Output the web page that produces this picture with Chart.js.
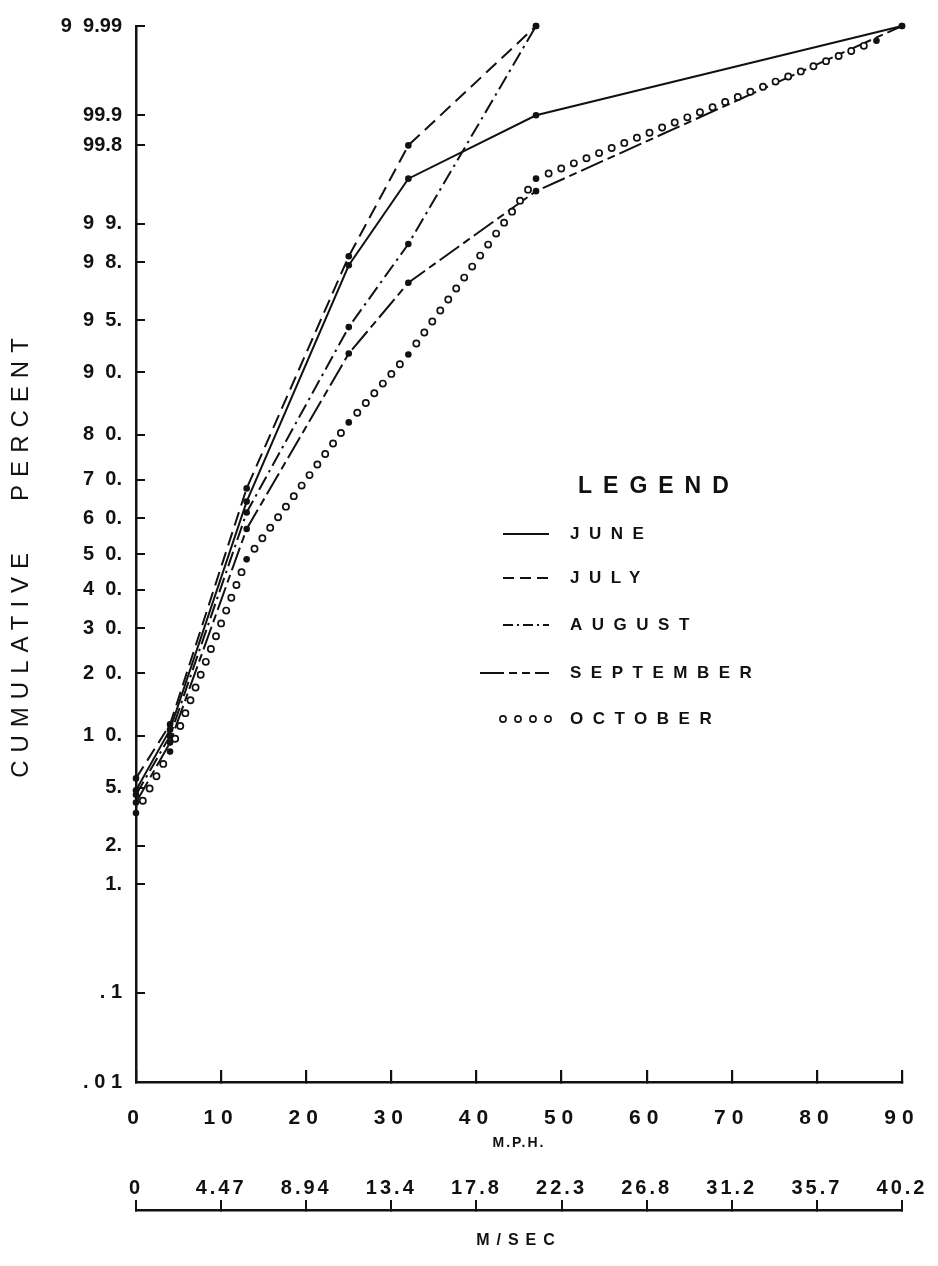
<!DOCTYPE html>
<html><head><meta charset="utf-8">
<script src="https://cdn.jsdelivr.net/npm/chart.js@4/dist/chart.umd.min.js"></script>
<style>html,body{margin:0;padding:0;background:#fff;}canvas{display:block;}</style>
</head><body>
<canvas id="c" width="938" height="1266"></canvas>
<script>
// ---------------- data ----------------
const juneMph      = [0, 4, 13, 25, 32, 47, 90];
const junePct      = [4.8, 10.8, 64.4, 97.9, 99.59, 99.9, 99.99];
const julyMph      = [0, 4, 13, 25, 32, 47];
const julyPct      = [5.7, 11.5, 67.8, 98.2, 99.8, 99.99];
const augustMph    = [0, 4, 13, 25, 32, 47];
const augustPct    = [4.5, 10.0, 61.5, 94.5, 98.55, 99.99];
const septemberMph = [0, 4, 13, 25, 32, 47, 90];
const septemberPct = [4.0, 9.2, 57.0, 92.1, 97.2, 99.47, 99.99];
const octoberMph   = [0, 4, 13, 25, 32, 47, 87];
const octoberPct   = [3.4, 8.2, 48.5, 82.3, 92.0, 99.59, 99.985];

const seriesNames   = ['JUNE', 'JULY', 'AUGUST', 'SEPTEMBER', 'OCTOBER'];
const mphTicks      = [0, 10, 20, 30, 40, 50, 60, 70, 80, 90];
const mphTickLabels = ['0', '10', '20', '30', '40', '50', '60', '70', '80', '90'];
const msecTickLabels = ['0', '4.47', '8.94', '13.4', '17.8', '22.3', '26.8', '31.2', '35.7', '40.2'];
const pctTicks      = [99.99, 99.9, 99.8, 99, 98, 95, 90, 80, 70, 60, 50, 40, 30, 20, 10, 5, 2, 1, 0.1, 0.01];
const pctTickLabels = ['9  9.99', '99.9', '99.8', '9  9.', '9  8.', '9  5.', '9  0.', '8  0.', '7  0.', '6  0.',
                       '5  0.', '4  0.', '3  0.', '2  0.', '1  0.', '5.', '2.', '1.', '. 1', '. 0 1'];
const yTitle = 'CUMULATIVE   PERCENT';
const xTitle = 'M.P.H.';
const x3Title = 'M/SEC';
const legendTitle = 'LEGEND';

// ---------------- helpers ----------------
function probit(p) {
  const a = [-3.969683028665376e+01, 2.209460984245205e+02, -2.759285104469687e+02, 1.383577518672690e+02, -3.066479806614716e+01, 2.506628277459239e+00];
  const b = [-5.447609879822406e+01, 1.615858368580409e+02, -1.556989798598866e+02, 6.680131188771972e+01, -1.328068155288572e+01];
  const c = [-7.784894002430293e-03, -3.223964580411365e-01, -2.400758277161838e+00, -2.549732539343734e+00, 4.374664141464968e+00, 2.938163982698783e+00];
  const d = [7.784695709041462e-03, 3.224671290700398e-01, 2.445134137142996e+00, 3.754408661907416e+00];
  const pl = 0.02425, ph = 1 - pl;
  let q, r;
  if (p < pl) {
    q = Math.sqrt(-2 * Math.log(p));
    return (((((c[0]*q+c[1])*q+c[2])*q+c[3])*q+c[4])*q+c[5]) / ((((d[0]*q+d[1])*q+d[2])*q+d[3])*q+1);
  }
  if (p <= ph) {
    q = p - 0.5; r = q * q;
    return (((((a[0]*r+a[1])*r+a[2])*r+a[3])*r+a[4])*r+a[5])*q / (((((b[0]*r+b[1])*r+b[2])*r+b[3])*r+b[4])*r+1);
  }
  q = Math.sqrt(-2 * Math.log(1 - p));
  return -(((((c[0]*q+c[1])*q+c[2])*q+c[3])*q+c[4])*q+c[5]) / ((((d[0]*q+d[1])*q+d[2])*q+d[3])*q+1);
}
function normCdf(z) {
  const t = 1 / (1 + 0.3275911 * Math.abs(z) / Math.SQRT2);
  const y = 1 - (((((1.061405429*t - 1.453152027)*t) + 1.421413741)*t - 0.284496736)*t + 0.254829592)*t*Math.exp(-z*z/2);
  return z >= 0 ? 0.5 * (1 + y) : 0.5 * (1 - y);
}

const FONT = "'Liberation Sans', Arial, sans-serif";
const INK = '#111';
const SPACING = {
  y:  { ticks: '0px', title: '8px' },
  x:  { ticks: '6px', title: '2px' },
  x2: { ticks: '3px', title: '0px' },
  x3: { ticks: '0px', title: '7px' }
};
function withSpacing(scale, kind, fn) {
  const ctx = scale.ctx;
  ctx.save();
  const s = (SPACING[scale.id] || {})[kind];
  if (s && 'letterSpacing' in ctx) ctx.letterSpacing = s;
  fn();
  ctx.restore();
}
function fixBox(size) {
  return s => {
    if (s.isHorizontal()) s.height = size; else s.width = size;
    s.paddingTop = 0; s.paddingBottom = 0; s.paddingLeft = 0; s.paddingRight = 0;
  };
}

// normal-probability (probit) axis
class ProbitScale extends Chart.Scale {
  determineDataLimits() { this.min = this.options.min; this.max = this.options.max; }
  buildTicks() { return pctTicks.map(v => ({ value: v })); }
  getLabelForValue(v) { return String(v); }
  configure() {
    super.configure();
    this._zMin = probit(this.min / 100);
    this._zMax = probit(this.max / 100);
  }
  getPixelForValue(v) {
    if (v === null || v === undefined || isNaN(v)) return NaN;
    const z = probit(v / 100);
    return this.getPixelForDecimal((z - this._zMin) / (this._zMax - this._zMin));
  }
  getValueForPixel(px) {
    const dd = this.getDecimalForPixel(px);
    return 100 * normCdf(this._zMin + dd * (this._zMax - this._zMin));
  }
  drawLabels(area) { withSpacing(this, 'ticks', () => super.drawLabels(area)); }
  drawTitle() { withSpacing(this, 'title', () => super.drawTitle()); }
}
ProbitScale.id = 'probit';
ProbitScale.defaults = {};

class SpacedLinearScale extends Chart.LinearScale {
  drawLabels(area) { withSpacing(this, 'ticks', () => super.drawLabels(area)); }
  drawTitle() { withSpacing(this, 'title', () => super.drawTitle()); }
}
SpacedLinearScale.id = 'spacedLinear';
SpacedLinearScale.defaults = Chart.LinearScale.defaults;

Chart.register(ProbitScale, SpacedLinearScale);

// open-circle line for October, drawn along the library's point positions
const RING_DATASET = 4;
function drawRing(ctx, x, y) {
  ctx.beginPath();
  ctx.arc(x, y, 3.1, 0, Math.PI * 2);
  ctx.fill();
  ctx.stroke();
}
const ringLine = {
  id: 'ringLine',
  afterDatasetsDraw(chart) {
    const meta = chart.getDatasetMeta(RING_DATASET);
    const pts = meta.data;
    const ctx = chart.ctx;
    ctx.save();
    ctx.lineWidth = 1.7; ctx.strokeStyle = INK; ctx.fillStyle = '#fff';
    for (let i = 0; i < pts.length - 1; i++) {
      const a = pts[i], b = pts[i + 1];
      const L = Math.hypot(b.x - a.x, b.y - a.y);
      const n = Math.max(1, Math.round(L / 13.5));
      for (let k = 1; k < n; k++) {
        drawRing(ctx, a.x + (b.x - a.x) * k / n, a.y + (b.y - a.y) * k / n);
      }
    }
    ctx.restore();
  }
};

// legend block drawn in the plot like the original
const legendBlock = {
  id: 'legendBlock',
  afterDraw(chart) {
    const ctx = chart.ctx;
    ctx.save();
    ctx.fillStyle = INK; ctx.strokeStyle = INK;
    ctx.textBaseline = 'middle'; ctx.textAlign = 'left';
    if ('letterSpacing' in ctx) ctx.letterSpacing = '11px';
    ctx.font = 'bold 23px ' + FONT;
    ctx.fillText(legendTitle, 578, 487);
    ctx.font = 'bold 17px ' + FONT;
    if ('letterSpacing' in ctx) ctx.letterSpacing = '9.5px';
    const rowY = [534, 578, 625, 673, 719];
    const sampleStart = [503, 503, 503, 480, 0];
    chart.data.datasets.forEach((ds, i) => {
      const y = rowY[i];
      if (i < 4) {
        ctx.save();
        ctx.lineWidth = 2;
        ctx.setLineDash(ds.legendDash || []);
        ctx.beginPath(); ctx.moveTo(sampleStart[i], y); ctx.lineTo(549, y); ctx.stroke();
        ctx.restore();
      } else {
        ctx.save(); ctx.lineWidth = 1.6; ctx.fillStyle = '#fff';
        [503, 518, 533, 548].forEach(x => drawRing(ctx, x, y));
        ctx.restore();
      }
      ctx.fillText(seriesNames[i], 570, y);
    });
    ctx.restore();
  }
};

function pts(mph, pct) { return mph.map((x, i) => ({ x: x, y: pct[i] })); }
const common = { borderColor: INK, borderWidth: 2, pointRadius: 3.3, pointHoverRadius: 3.3,
  pointBackgroundColor: INK, pointBorderWidth: 0, tension: 0, fill: false, clip: false };

new Chart(document.getElementById('c'), {
  type: 'line',
  data: {
    datasets: [
      Object.assign({}, common, { label: seriesNames[0], data: pts(juneMph, junePct), borderDash: [], legendDash: [] }),
      Object.assign({}, common, { label: seriesNames[1], data: pts(julyMph, julyPct), borderDash: [14, 7], legendDash: [11, 6] }),
      Object.assign({}, common, { label: seriesNames[2], data: pts(augustMph, augustPct), borderDash: [15, 5, 2.5, 5], legendDash: [10, 4, 2, 4] }),
      Object.assign({}, common, { label: seriesNames[3], data: pts(septemberMph, septemberPct), borderDash: [24, 5, 8, 5], legendDash: [24, 5, 8, 5, 8, 5] }),
      Object.assign({}, common, { label: seriesNames[4], data: pts(octoberMph, octoberPct), showLine: false })
    ]
  },
  options: {
    responsive: false,
    animation: false,
    devicePixelRatio: 1,
    events: [],
    layout: { padding: { left: 0, right: 36, top: 26, bottom: 16 } },
    plugins: { legend: { display: false }, tooltip: { enabled: false } },
    scales: {
      x: {
        type: 'spacedLinear', position: 'bottom', min: 0, max: 90,
        afterBuildTicks: s => { s.ticks = mphTicks.map(v => ({ value: v })); },
        afterFit: fixBox(72),
        ticks: { autoSkip: false, maxRotation: 0, padding: 36, color: INK,
                 font: { family: FONT, size: 21, weight: 'bold' },
                 callback: v => mphTickLabels[mphTicks.indexOf(v)] },
        grid: { drawOnChartArea: false, tickLength: -12, lineWidth: 2.2, color: INK },
        border: { display: true, width: 2.5, color: INK },
        title: { display: true, text: xTitle, color: INK, font: { family: FONT, size: 14, weight: 'bold' }, padding: { top: 0, bottom: 2 } }
      },
      x2: {
        type: 'spacedLinear', position: 'bottom', min: 0, max: 90,
        afterBuildTicks: s => { s.ticks = mphTicks.map(v => ({ value: v })); },
        afterFit: fixBox(56),
        ticks: { autoSkip: false, maxRotation: 0, padding: 22, color: INK,
                 font: { family: FONT, size: 20, weight: 'bold' },
                 callback: v => msecTickLabels[mphTicks.indexOf(v)] },
        grid: { display: false, drawOnChartArea: false, drawTicks: false },
        border: { display: false },
        title: { display: false }
      },
      x3: {
        type: 'spacedLinear', position: 'bottom', min: 0, max: 90,
        afterBuildTicks: s => { s.ticks = mphTicks.map(v => ({ value: v })); },
        afterFit: fixBox(40),
        ticks: { display: false, autoSkip: false },
        grid: { drawOnChartArea: false, tickLength: -10, lineWidth: 2, color: INK },
        border: { display: true, width: 2.5, color: INK },
        title: { display: true, text: x3Title, color: INK, font: { family: FONT, size: 16, weight: 'bold' }, padding: { top: 0, bottom: 0 } }
      },
      y: {
        type: 'probit', position: 'left', min: 0.01, max: 99.99,
        afterFit: fixBox(136),
        ticks: { autoSkip: false, padding: 23, color: INK,
                 font: { family: FONT, size: 20, weight: 'bold' },
                 callback: v => pctTickLabels[pctTicks.indexOf(v)] },
        grid: { drawOnChartArea: false, tickLength: -9, lineWidth: 2, color: INK },
        border: { display: true, width: 2.5, color: INK },
        title: { display: true, text: yTitle, color: INK, font: { family: FONT, size: 24 }, padding: { top: 7, bottom: 0 } }
      }
    }
  },
  plugins: [ringLine, legendBlock]
});
</script>
</body></html>
